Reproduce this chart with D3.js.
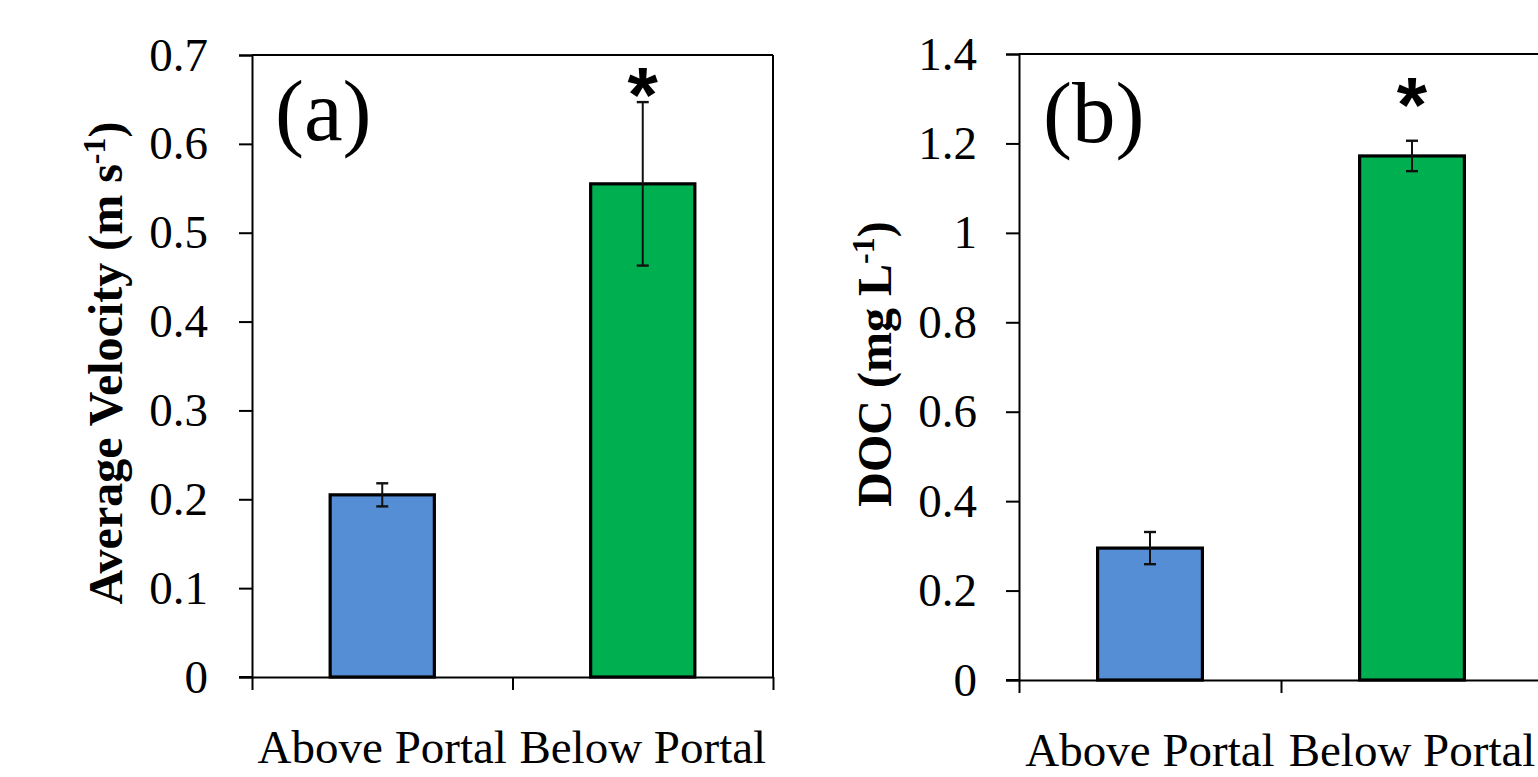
<!DOCTYPE html>
<html>
<head>
<meta charset="utf-8">
<script src="https://cdn.jsdelivr.net/npm/d3@7"></script>
<style>
  html, body { margin: 0; padding: 0; background: #fff; }
  svg { display: block; }
</style>
</head>
<body>
<svg id="chart" width="1538" height="777"></svg>
<script>
// ---- data ----
const categories = ["Above Portal", "Below Portal"];
const barColors = ["#558ED5", "#00B050"];

const velocityMean = [0.205, 0.555];
const velocityErr = [0.013, 0.092];
const velocityTicks = [0, 0.1, 0.2, 0.3, 0.4, 0.5, 0.6, 0.7];
const velocitySig = [null, 0.68];

const docMean = [0.295, 1.172];
const docErr = [0.036, 0.034];
const docTicks = [0, 0.2, 0.4, 0.6, 0.8, 1, 1.2, 1.4];
const docSig = [null, 1.335];

const panelLabels = ["(a)", "(b)"];

// ---- drawing ----
const svg = d3.select("#chart");
const serif = "'Liberation Serif', 'Times New Roman', serif";

function drawPanel(opt) {
  const g = svg.append("g");
  const y = d3.scaleLinear().domain([0, opt.ticks[opt.ticks.length - 1]]).range([opt.bottom, opt.top]);
  const x = d3.scaleBand().domain(categories).range([opt.left, opt.right]).paddingInner(0).paddingOuter(0);
  const xb = d3.scaleLinear().domain([0, categories.length]).range([opt.left, opt.right]);
  const bw = x.bandwidth() * 0.4;

  // plot frame (top + right)
  g.append("line").attr("x1", opt.left).attr("x2", opt.right).attr("y1", opt.top).attr("y2", opt.top)
    .attr("stroke", "#000").attr("stroke-width", 2);
  g.append("line").attr("x1", opt.right).attr("x2", opt.right).attr("y1", opt.top).attr("y2", opt.bottom)
    .attr("stroke", "#000").attr("stroke-width", 2);

  // bars
  g.selectAll("rect.bar").data(opt.mean).enter().append("rect")
    .attr("x", (d, i) => x(categories[i]) + (x.bandwidth() - bw) / 2)
    .attr("y", d => y(d))
    .attr("width", bw)
    .attr("height", d => y(0) - y(d))
    .attr("fill", (d, i) => barColors[i])
    .attr("stroke", "#000").attr("stroke-width", 3.2);

  // y axis
  const ya = g.append("g").attr("transform", `translate(${opt.left},0)`)
    .call(d3.axisLeft(y).tickValues(opt.ticks).tickSize(13).tickPadding(opt.pad).tickFormat(d3.format("")));
  ya.select(".domain").attr("stroke-width", 2);
  ya.selectAll(".tick line").attr("stroke-width", 2);
  ya.selectAll("text").attr("font-family", serif).attr("font-size", 47).attr("fill", "#000");

  // x axis (ticks at band boundaries)
  const xa = g.append("g").attr("transform", `translate(0,${opt.bottom})`)
    .call(d3.axisBottom(xb).tickValues(d3.range(categories.length + 1)).tickSize(13).tickSizeOuter(0).tickFormat(""));
  xa.select(".domain").attr("stroke-width", 2);
  xa.selectAll(".tick line").attr("stroke-width", 2);
  g.append("line").attr("x1", opt.left - 13).attr("x2", opt.left).attr("y1", opt.bottom).attr("y2", opt.bottom)
    .attr("stroke", "#000").attr("stroke-width", 2);

  // category labels
  g.selectAll("text.cat").data(categories).enter().append("text")
    .attr("x", d => x(d) + x.bandwidth() / 2)
    .attr("y", opt.bottom + 86)
    .attr("text-anchor", "middle")
    .attr("font-family", serif).attr("font-size", 47)
    .text(d => d);

  // error bars
  const cx = (i) => x(categories[i]) + x.bandwidth() / 2;
  opt.mean.forEach((m, i) => {
    const e = opt.err[i];
    g.append("line").attr("x1", cx(i)).attr("x2", cx(i)).attr("y1", y(m + e)).attr("y2", y(m - e))
      .attr("stroke", "#111").attr("stroke-width", 2);
    [m + e, m - e].forEach(v => {
      g.append("line").attr("x1", cx(i) - 6).attr("x2", cx(i) + 6).attr("y1", y(v)).attr("y2", y(v))
        .attr("stroke", "#111").attr("stroke-width", 2.4);
    });
    if (opt.sig[i] != null) {
      g.append("text").attr("x", cx(i)).attr("y", y(opt.sig[i]))
        .attr("text-anchor", "middle").attr("dominant-baseline", "central")
        .attr("font-family", "'Liberation Sans', Arial, sans-serif").attr("font-weight", "bold")
        .attr("font-size", 78).attr("dy", "0.28em")
        .text("*");
    }
  });

  // panel label
  g.append("text").attr("x", opt.labelX).attr("y", opt.labelY)
    .attr("font-family", serif).attr("font-size", 87).text(opt.label);

  // y title
  const t = g.append("text")
    .attr("transform", `translate(${opt.titleX},${(opt.top + opt.bottom) / 2 - 3}) rotate(-90)`)
    .attr("text-anchor", "middle")
    .attr("font-family", serif).attr("font-weight", "bold").attr("font-size", 48);
  t.append("tspan").text(opt.title[0]);
  t.append("tspan").attr("font-size", 32).attr("dy", -17).text(opt.title[1]);
  t.append("tspan").attr("dy", 17).text(opt.title[2]);
}

drawPanel({
  left: 252, right: 773, top: 55, bottom: 677, pad: 31,
  ticks: velocityTicks, mean: velocityMean, err: velocityErr, sig: velocitySig,
  label: panelLabels[0], labelX: 275, labelY: 140,
  title: ["Average Velocity (m s", "-1", ")"], titleX: 122
});
drawPanel({
  left: 1019, right: 1543, top: 54, bottom: 680, pad: 29,
  ticks: docTicks, mean: docMean, err: docErr, sig: docSig,
  label: panelLabels[1], labelX: 1043, labelY: 142,
  title: ["DOC (mg L", "-1", ")"], titleX: 891
});
</script>
</body>
</html>
